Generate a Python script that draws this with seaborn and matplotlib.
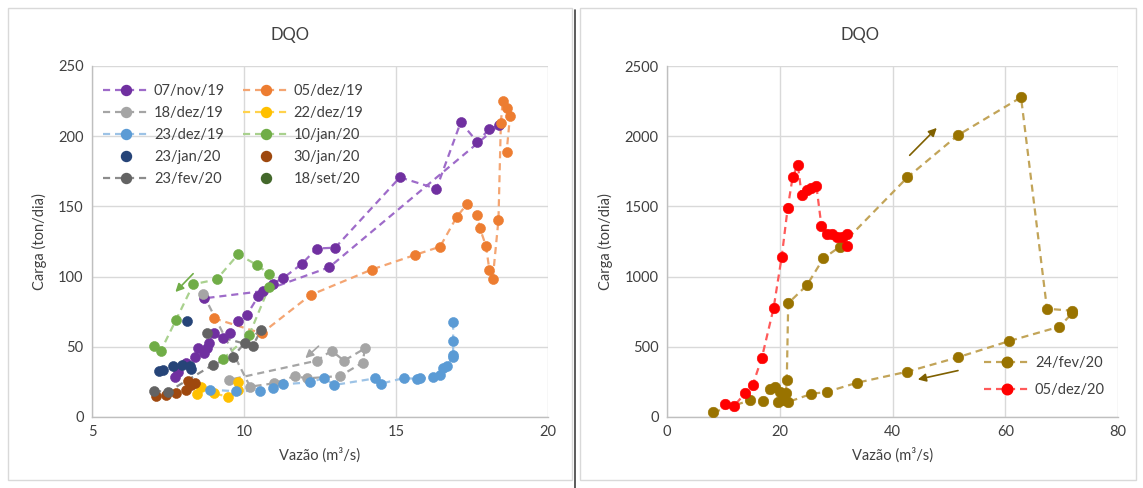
import matplotlib
matplotlib.use("Agg")
import matplotlib.pyplot as plt
from matplotlib.lines import Line2D
from matplotlib.patches import Rectangle
import seaborn as sns
import pandas as pd

# ---- Left chart: load (ton/day) vs flow (m3/s) per sampling event ----
nov19_q = [7.73, 7.84, 8.09, 8.39, 8.50, 8.70, 8.77, 8.85, 9.02, 9.30, 9.54, 9.81, 10.09, 10.47,
           10.94, 11.29, 11.90, 12.39, 13.00, 15.13, 16.33, 17.13, 17.67, 18.07, 18.40, 12.80,
           10.63, 8.68]
nov19_c = [28.7, 32, 38.7, 43, 49, 45.8, 48.9, 53, 60, 56, 60, 68.6, 72.6, 86,
           95, 99, 109, 120, 120.6, 170.7, 162.6, 210, 196, 205, 208, 106.6,
           89.7, 84.5]

dez05_q = [9.01, 10.58, 12.19, 14.20, 15.62, 16.45, 17.00, 17.34, 17.67, 17.76, 17.96, 18.07,
           18.18, 18.37, 18.45, 18.51, 18.64, 18.75, 18.64]
dez05_c = [70.3, 59.6, 86.9, 105, 115.4, 121.3, 142.6, 151.7, 143.9, 134.4, 121.8, 105,
           98, 140.3, 209.6, 225.3, 219.8, 214.4, 189]

dez18_q = [8.66, 10.20, 10.99, 11.68, 12.06, 13.16, 13.90, 13.98, 13.29, 12.88, 12.39, 9.52]
dez18_c = [87.4, 21.6, 24, 29.2, 27.5, 29.2, 38.7, 48.9, 40.1, 47.2, 40.1, 26.5]

dez22_q = [8.47, 8.60, 9.02, 9.46, 9.81, 9.81]
dez22_c = [16.4, 21.6, 16.8, 14.5, 19.2, 24.7]

dez23_q = [8.88, 9.74, 10.53, 10.94, 11.29, 12.17, 12.63, 12.97, 14.31, 14.50, 15.27, 15.68,
           15.79, 16.23, 16.45, 16.53, 16.67, 16.86, 16.88, 16.88, 16.88]
dez23_c = [19.5, 18.3, 18.8, 20.4, 23.3, 24.7, 27.8, 22.8, 27.5, 23.7, 27.8, 27.1,
           27.5, 28.2, 29.9, 34.6, 36.3, 42.5, 44.2, 54.4, 67.4]

jan10_q = [9.30, 10.17, 10.83, 10.83, 10.42, 9.81, 9.10, 8.33, 7.76, 7.26, 7.04]
jan10_c = [41.2, 58.4, 92.8, 101.9, 108.3, 115.9, 98, 94.5, 69, 47, 50.6]

jan23_q = [7.20, 7.35, 7.68, 7.96, 8.22, 8.27, 8.11]
jan23_c = [33, 33.3, 36, 37, 36.4, 34, 68.4]

jan30_q = [7.12, 7.43, 7.76, 8.09, 8.17, 8.25, 8.39]
jan30_c = [15, 15.7, 17, 19.2, 25.5, 22.8, 24]

fev23_q = [7.04, 7.50, 8.97, 9.64, 10.03, 10.56, 10.29, 8.78]
fev23_c = [18.5, 18, 37, 43, 52.9, 62, 50.6, 59.6]

set18_q = []
set18_c = []

# ---- Right chart ----
fev24_q = [8.2, 14.7, 17.0, 18.3, 19.2, 20.1, 21.1, 21.25, 21.5, 24.8, 27.75, 30.6, 42.65,
           51.6, 62.8, 67.4, 71.9, 71.9, 69.6, 60.7, 51.6, 42.65, 33.7, 28.45, 25.56, 21.5,
           20.6, 19.75]
fev24_c = [33, 119, 112, 202, 214, 178, 171, 266, 810, 938, 1130, 1211, 1707,
           2007, 2277, 771, 757, 740, 643, 541, 425, 323, 244, 180, 164, 107,
           119, 107]

dez05b_q = [10.3, 11.9, 13.8, 15.2, 16.8, 18.9, 20.35, 21.4, 22.3, 23.2, 23.9, 24.9, 25.6,
            26.5, 27.4, 28.4, 29.2, 30.1, 31.0, 31.9, 31.9]
dez05b_c = [92, 78, 168, 228, 418, 774, 1142, 1486, 1712, 1795, 1578, 1617, 1630,
            1645, 1358, 1302, 1306, 1280, 1280, 1305, 1218]

left_labels = ["07/nov/19", "05/dez/19", "18/dez/19", "22/dez/19", "23/dez/19",
               "10/jan/20", "23/jan/20", "30/jan/20", "23/fev/20", "18/set/20"]
right_labels = ["24/fev/20", "05/dez/20"]

sns.set_theme(style="white")
plt.rcParams["font.family"] = ["Lato", "DejaVu Sans"]

# (label, x, y, marker colour, line colour or None when only markers are drawn)
left_series = [
    (left_labels[0], nov19_q, nov19_c, "#7030A0", "#9E6BC9"),
    (left_labels[1], dez05_q, dez05_c, "#ED7D31", "#F4A572"),
    (left_labels[2], dez18_q, dez18_c, "#A5A5A5", "#A5A5A5"),
    (left_labels[3], dez22_q, dez22_c, "#FFC000", "#FFD24D"),
    (left_labels[4], dez23_q, dez23_c, "#5B9BD5", "#9DC3E6"),
    (left_labels[5], jan10_q, jan10_c, "#70AD47", "#A9D18E"),
    (left_labels[6], jan23_q, jan23_c, "#264478", None),
    (left_labels[7], jan30_q, jan30_c, "#9E480E", None),
    (left_labels[8], fev23_q, fev23_c, "#636363", "#8C8C8C"),
    (left_labels[9], set18_q, set18_c, "#43682B", None),
]
right_series = [
    (right_labels[0], fev24_q, fev24_c, "#997300", "#C2A458"),
    (right_labels[1], dez05b_q, dez05b_c, "#FF0000", "#FF5A5A"),
]

fig = plt.figure(figsize=(11.43, 4.88), dpi=100)
ax1 = fig.add_axes([92 / 1143, 71 / 488, 456 / 1143, 351 / 488])
ax2 = fig.add_axes([667 / 1143, 71 / 488, 451 / 1143, 351 / 488])

# chart-area frames
fig.patches.append(Rectangle((8 / 1143, 8 / 488), 564 / 1143, 472 / 488, transform=fig.transFigure,
                             fill=False, edgecolor="#D9D9D9", linewidth=1))
fig.patches.append(Rectangle((580 / 1143, 8 / 488), 556 / 1143, 472 / 488, transform=fig.transFigure,
                             fill=False, edgecolor="#D9D9D9", linewidth=1))
fig.lines.append(Line2D([575 / 1143, 575 / 1143], [0, 478 / 488], transform=fig.transFigure,
                        color="#404040", linewidth=1.2))

DASH = (3.2, 2.2)


def draw(ax, series, ms):
    handles = {}
    for label, xs, ys, mcol, lcol in series:
        df = pd.DataFrame({"q": xs, "c": ys})
        if lcol is not None and len(df) > 1:
            sns.lineplot(data=df, x="q", y="c", sort=False, estimator=None, ax=ax,
                         color=lcol, linewidth=1.6, dashes=False, linestyle=(0, DASH), zorder=2)
        if len(df):
            sns.scatterplot(data=df, x="q", y="c", ax=ax, color=mcol, s=ms ** 2,
                            edgecolor=mcol, linewidth=0.4, zorder=3)
        handles[label] = Line2D([], [], color=lcol if lcol else "none", linestyle=(0, DASH),
                                linewidth=1.6, marker="o", markersize=ms,
                                markerfacecolor=mcol, markeredgecolor=mcol)
    return handles


h1 = draw(ax1, left_series, 7.2)
h2 = draw(ax2, right_series, 7.6)

for ax in (ax1, ax2):
    ax.grid(True, color="#D9D9D9", linewidth=1)
    ax.set_axisbelow(True)
    for s in ("top", "right"):
        ax.spines[s].set_visible(False)
    for s in ("left", "bottom"):
        ax.spines[s].set_color("#BFBFBF")
        ax.spines[s].set_linewidth(1)
    ax.tick_params(axis="both", labelsize=10.5, colors="#404040", length=0, pad=6)
    ax.set_xlabel("Vazão (m³/s)", fontsize=10.5, color="#404040", labelpad=6)
    ax.set_ylabel("Carga (ton/dia)", fontsize=10.5, color="#404040", labelpad=8)

ax1.set_xlim(5, 20)
ax1.set_ylim(0, 250)
ax1.set_xticks([5, 10, 15, 20])
ax1.set_yticks(range(0, 251, 50))
ax2.set_xlim(0, 80)
ax2.set_ylim(0, 2500)
ax2.set_xticks([0, 20, 40, 60, 80])
ax2.set_yticks(range(0, 2501, 500))

fig.text(290 / 1143, 1 - 35 / 488, "DQO", ha="center", va="center", fontsize=12, color="#404040")
fig.text(860 / 1143, 1 - 35 / 488, "DQO", ha="center", va="center", fontsize=12, color="#404040")

# legend: two columns, filled row by row
order = [left_labels[i] for i in (0, 2, 4, 6, 8, 1, 3, 5, 7, 9)]
ax1.legend([h1[k] for k in order], order, ncol=2, loc="upper left",
           bbox_to_anchor=(-0.005, 0.985), frameon=False, fontsize=10.5,
           handlelength=3.2, handletextpad=0.3, columnspacing=1.2, labelspacing=0.55,
           labelcolor="#404040")
ax2.legend([h2[k] for k in right_labels], right_labels, loc="lower right",
           bbox_to_anchor=(1.0, 0.02), frameon=False, fontsize=10.5,
           handlelength=3.2, handletextpad=0.3, labelspacing=0.9, labelcolor="#404040")

# direction arrows
arrow = dict(arrowstyle="-|>", linewidth=1.2, mutation_scale=12)
ax1.annotate("", xy=(7.68, 87.6), xytext=(8.39, 103.5),
             arrowprops=dict(arrow, color="#70AD47"))
ax1.annotate("", xy=(11.95, 40.6), xytext=(12.52, 51.8),
             arrowprops=dict(arrow, color="#A5A5A5"))
ax2.annotate("", xy=(48.2, 2073), xytext=(42.7, 1850),
             arrowprops=dict(arrow, color="#7F6000"))
ax2.annotate("", xy=(44.0, 263), xytext=(52.1, 335),
             arrowprops=dict(arrow, color="#7F6000"))

fig.savefig("out.png", dpi=100)
